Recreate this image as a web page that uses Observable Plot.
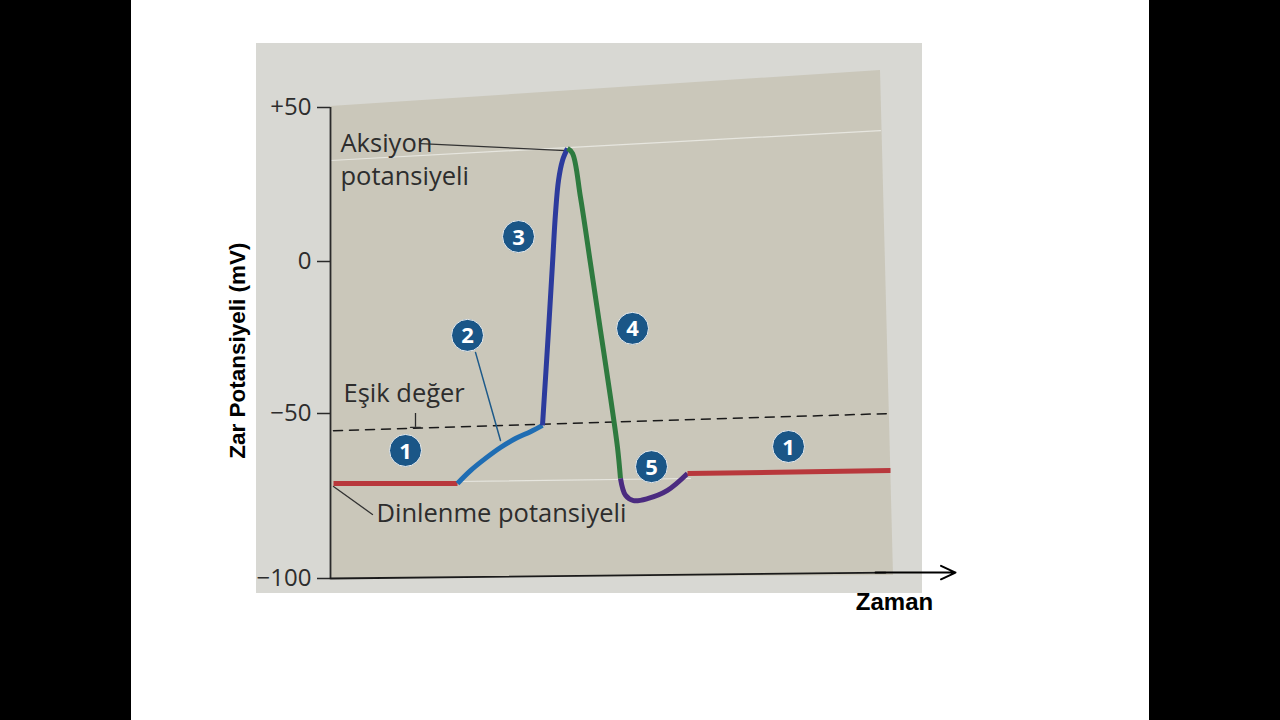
<!DOCTYPE html>
<html>
<head>
<meta charset="utf-8">
<script src="https://cdn.jsdelivr.net/npm/d3@7"></script>
<script src="https://cdn.jsdelivr.net/npm/@observablehq/plot@0.6"></script>
<style>
  html, body { margin: 0; padding: 0; width: 1280px; height: 720px; overflow: hidden; background: #000; }
  #stage { position: relative; width: 1280px; height: 720px; }
  #page { position: absolute; left: 131px; top: 0; width: 1018px; height: 720px; background: #fff; }
  #panel { position: absolute; left: 256px; top: 43px; width: 666px; height: 550px; background: #d8d8d3; }
  #inner { position: absolute; left: 0; top: 0; width: 1280px; height: 720px; background: #cac7ba;
           clip-path: polygon(330px 106px, 880px 70px, 893px 575px, 330px 578px); }
  #chart { position: absolute; left: 0; top: 0; }
  #chart svg { background: transparent; overflow: visible; }
</style>
</head>
<body>
<div id="stage">
  <div id="page"></div>
  <div id="panel"></div>
  <div id="inner"></div>
  <div id="chart"></div>
</div>
<script>
// ---- Data (time in arbitrary units, membrane potential in mV) ----
const phaseNames = ["1a", "2", "3", "4", "5", "1b"];
const phaseColors = ["#b8383c", "#1f6db3", "#2c3b9d", "#2e7a3f", "#4b2b80", "#b8383c"];

const phase1aT = [3, 127];
const phase1aV = [-71.2, -71.2];
const phase2T = [127, 140, 155, 170, 185, 200, 212];
const phase2V = [-71.2, -67.3, -63.6, -60.3, -57.6, -55.5, -53.6];
const phase3T = [212, 218, 222, 225, 228, 232, 237];
const phase3V = [-53.6, -22.7, -0.7, 15.6, 26.3, 32.8, 36.7];
const phase4T = [237, 242, 250, 260, 270, 280, 287, 290];
const phase4V = [36.7, 35.1, 20.8, -0.7, -22.7, -44.7, -60.3, -69.7];
const phase5T = [290, 295, 303, 317, 337, 357];
const phase5V = [-69.7, -74.8, -76.4, -75.8, -73.3, -68.2];
const phase1bT = [357, 560];
const phase1bV = [-68.2, -67.3];

const thresholdT = [3, 560];
const thresholdV = [-55.2, -50];

const peakGuideT = [0, 550];
const peakGuideV = [32.8, 42.5];
const restGuideT = [127, 360];
const restGuideV = [-70.6, -69.7];

const markerLabels = ["1", "2", "3", "4", "5", "1"];
const markerT = [75, 137, 188, 302, 321, 458];
const markerV = [-61.2, -24.3, 8.1, -22, -66.1, -60];

const yTicks = [-100, -50, 0, 50];
const yTickLabels = ["\u2212100", "\u221250", "0", "+50"];

const annotTexts = ["Aksiyon", "potansiyeli", "Eşik değer", "Dinlenme potansiyeli"];
const annotT = [10, 10, 13, 46];
const annotV = [38.3, 27.6, -43.4, -80.3];

const leaderAksiyonT = [90, 235];
const leaderAksiyonV = [38.3, 36];
const leaderDinlenmeT = [3, 42];
const leaderDinlenmeV = [-72.1, -80.6];
const leader2T = [145, 170];
const leader2V = [-29.9, -58.2];
const thresholdTickT = 85;
const thresholdTickV = [-50, -54.2];

const yTitle = "Zar Potansiyeli (mV)";
const xTitle = "Zaman";

// ---- Build tables ----
const phaseSeries = [
  [phase1aT, phase1aV], [phase2T, phase2V], [phase3T, phase3V],
  [phase4T, phase4V], [phase5T, phase5V], [phase1bT, phase1bV]
];
const trace = phaseSeries.flatMap(([ts, vs], i) => ts.map((t, j) => ({t, v: vs[j], phase: phaseNames[i]})));
const markers = markerLabels.map((label, i) => ({label, t: markerT[i], v: markerV[i]}));
const annots = annotTexts.map((text, i) => ({text, t: annotT[i], v: annotV[i]}));
const pairs = (ts, vs) => ts.map((t, i) => ({t, v: vs[i]}));
const yTickRows = yTicks.map((v, i) => ({v, label: yTickLabels[i]}));

const textFont = "'Open Sans', 'Noto Sans', sans-serif";
const ink = "#2d2d2d";

const chart = Plot.plot({
  width: 1280,
  height: 720,
  marginLeft: 330,
  marginRight: 390,
  marginTop: 107,
  marginBottom: 142,
  style: {background: "transparent", overflow: "visible"},
  x: {type: "linear", domain: [0, 560], axis: null},
  // piecewise scale follows the printed (slightly uneven) tick spacing
  y: {type: "linear", domain: [-100, -50, 0, 50], range: [578, 413, 261, 107], axis: null},
  color: {domain: phaseNames, range: phaseColors},
  marks: [
    // faint printed guides
    Plot.line(pairs(peakGuideT, peakGuideV), {x: "t", y: "v", stroke: "#eeeee8", strokeWidth: 1.2, strokeOpacity: 0.8}),
    Plot.line(pairs(restGuideT, restGuideV), {x: "t", y: "v", stroke: "#eeeee8", strokeWidth: 1.2, strokeOpacity: 0.8}),
    // y axis
    Plot.ruleX([0], {y1: -100, y2: 50, stroke: "#2a2a2a", strokeWidth: 1.8}),
    Plot.ruleY(yTickRows, {y: "v", x1: -13, x2: 0, stroke: "#2a2a2a", strokeWidth: 1.5}),
    Plot.text(yTickRows, {y: "v", x: -13, dx: -6, text: "label", textAnchor: "end",
      fontSize: 24, fill: ink, fontFamily: textFont}),
    // bottom axis line and arrow
    Plot.line([{t: 0, v: -100}, {t: 555, v: -98.2}], {x: "t", y: "v", stroke: "#1a1a1a", strokeWidth: 1.8}),
    Plot.arrow([{t1: 545, t2: 625, v: -98.2}], {x1: "t1", x2: "t2", y1: "v", y2: "v", stroke: "#000",
      strokeWidth: 2, headLength: 12, headAngle: 50}),
    // threshold
    Plot.line(pairs(thresholdT, thresholdV), {x: "t", y: "v", stroke: "#1a1a1a", strokeWidth: 1.5, strokeDasharray: "9,7"}),
    Plot.ruleX([thresholdTickT], {y1: thresholdTickV[0], y2: thresholdTickV[1], stroke: "#2a2a2a", strokeWidth: 1.3}),
    Plot.line([{t: thresholdTickT - 5, v: thresholdTickV[1]}, {t: thresholdTickT + 5, v: thresholdTickV[1]}],
      {x: "t", y: "v", stroke: "#2a2a2a", strokeWidth: 1.3}),
    // leader lines
    Plot.line(pairs(leaderAksiyonT, leaderAksiyonV), {x: "t", y: "v", stroke: "#333", strokeWidth: 1.3}),
    Plot.line(pairs(leaderDinlenmeT, leaderDinlenmeV), {x: "t", y: "v", stroke: "#333", strokeWidth: 1.3}),
    Plot.line(pairs(leader2T, leader2V), {x: "t", y: "v", stroke: "#1d5a8a", strokeWidth: 1.5}),
    // action potential trace
    Plot.line(trace, {x: "t", y: "v", z: "phase", stroke: "phase", strokeWidth: 5,
      curve: "catmull-rom", strokeLinecap: "butt", strokeLinejoin: "round"}),
    // annotations
    Plot.text(annots, {x: "t", y: "v", text: "text", textAnchor: "start", fontSize: 25.5, fill: ink, fontFamily: textFont}),
    // phase markers
    Plot.dot(markers, {x: "t", y: "v", r: 16, fill: "#1a5687", stroke: "#e8ecef", strokeWidth: 1}),
    Plot.text(markers, {x: "t", y: "v", text: "label", fill: "#fff", fontSize: 22, fontWeight: "bold",
      fontFamily: textFont, dy: 1}),
    // titles
    Plot.text([yTitle], {x: -93, y: -29.3, text: d => d, rotate: -90, fontSize: 22.5, fontWeight: "bold",
      fill: "#000", fontFamily: "'Liberation Sans', Arial, sans-serif"}),
    Plot.text([xTitle], {x: 564, y: -107.3, text: d => d, fontSize: 24, fontWeight: "bold",
      fill: "#000", fontFamily: "'Liberation Sans', Arial, sans-serif"})
  ]
});
document.getElementById("chart").appendChild(chart);
</script>
</body>
</html>
